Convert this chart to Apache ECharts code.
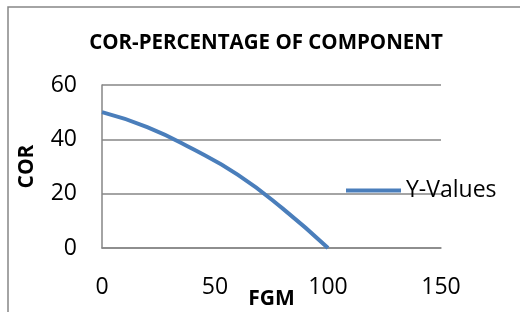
<!DOCTYPE html>
<html>
<head>
<meta charset="utf-8">
<script src="https://cdn.jsdelivr.net/npm/echarts@6/dist/echarts.min.js"></script>
<style>
  html, body { margin: 0; padding: 0; background: #fff; }
  #chart { width: 520px; height: 312px; }
</style>
</head>
<body>
<div id="chart"></div>
<script>
// values
var fgm = [0, 20, 40, 60, 80, 100];
var cor = [50, 44.5, 36.5, 27, 14.5, 0];
var xTicks = [0, 150, 50];
var yTicks = [0, 60, 20];
var seriesName = "Y-Values";

var font = "'Open Sans', sans-serif";
var gray = "#868686";

var chart = echarts.init(document.getElementById("chart"));
chart.setOption({
  animation: false,
  textStyle: { fontFamily: font },
  title: {
    text: "COR-PERCENTAGE OF COMPONENT",
    left: 261,
    textAlign: "center",
    top: 28,
    textStyle: { fontSize: 20.5, fontWeight: "bold", color: "#000", fontFamily: font },
  },
  graphic: [
    {
      type: "rect",
      shape: { x: 8, y: 7, width: 700, height: 500 },
      style: { fill: "none", stroke: gray, lineWidth: 1.5 },
      silent: true,
    },
  ],
  legend: {
    left: 341,
    top: 174,
    icon: "rect",
    itemWidth: 55,
    itemHeight: 4,
    itemGap: 0,
    textStyle: { fontSize: 23, color: "#000" },
    data: [seriesName],
  },
  grid: {
    left: 102,
    right: 79,
    top: 85,
    bottom: 64,
    outerBoundsMode: "none",
    containLabel: false,
  },
  xAxis: {
    type: "value",
    min: xTicks[0],
    max: xTicks[1],
    interval: xTicks[2],
    name: "FGM",
    nameLocation: "middle",
    nameGap: 41,
    nameMoveOverlap: false,
    nameTextStyle: { fontSize: 21, fontWeight: "bold", color: "#000" },
    axisLine: { show: true, lineStyle: { color: gray, width: 1.5 } },
    axisTick: { show: false },
    splitLine: { show: false },
    axisLabel: { color: "#000", fontSize: 23, margin: 28 },
  },
  yAxis: {
    type: "value",
    min: yTicks[0],
    max: yTicks[1],
    interval: yTicks[2],
    name: "COR",
    nameLocation: "middle",
    nameGap: 64,
    nameMoveOverlap: false,
    nameTextStyle: { fontSize: 21, fontWeight: "bold", color: "#000" },
    axisLine: { show: true, lineStyle: { color: gray, width: 1.5 } },
    axisTick: { show: false },
    splitLine: { show: true, lineStyle: { color: gray, width: 1.5 } },
    axisLabel: { color: "#000", fontSize: 23, margin: 25 },
  },
  series: [
    {
      name: seriesName,
      type: "line",
      smooth: true,
      showSymbol: false,
      data: fgm.map(function (x, i) { return [x, cor[i]]; }),
      lineStyle: { color: "#4a7ebb", width: 4 },
      itemStyle: { color: "#4a7ebb" },
    },
  ],
});
</script>
</body>
</html>
